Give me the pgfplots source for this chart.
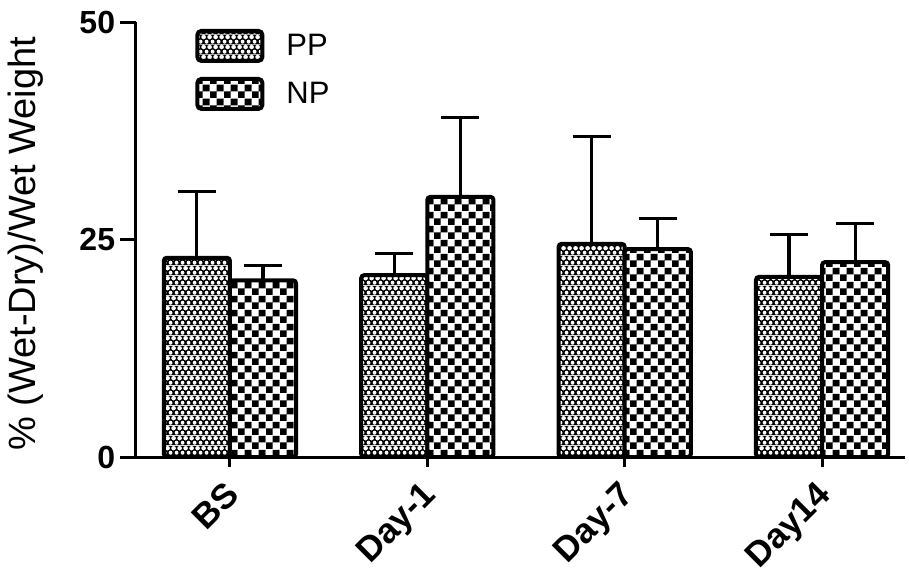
\documentclass[border=0pt]{standalone}
\usepackage{pgfplots}
\pgfplotsset{compat=1.18}
\usepackage{fontspec}
\setmainfont{Liberation Sans}
\usetikzlibrary{patterns}

\pgfdeclarepatterninherentlycolored{ppdots}{\pgfpointorigin}{\pgfqpoint{3pt}{5pt}}{\pgfqpoint{3pt}{5pt}}{%
  \pgfsetfillcolor{black}%
  \pgfpathrectangle{\pgfpointorigin}{\pgfqpoint{3pt}{5pt}}\pgfusepath{fill}%
  \pgfsetfillcolor{white}%
  \pgfpathcircle{\pgfqpoint{1.5pt}{1.25pt}}{1.1pt}%
  \pgfpathcircle{\pgfqpoint{0pt}{3.75pt}}{1.1pt}%
  \pgfpathcircle{\pgfqpoint{3pt}{3.75pt}}{1.1pt}%
  \pgfusepath{fill}%
}
\pgfdeclarepatterninherentlycolored{npcheck}{\pgfpointorigin}{\pgfqpoint{7pt}{7pt}}{\pgfqpoint{7pt}{7pt}}{%
  \pgfsetfillcolor{white}%
  \pgfpathrectangle{\pgfpointorigin}{\pgfqpoint{7pt}{7pt}}\pgfusepath{fill}%
  \pgfsetfillcolor{black}%
  \pgfpathrectangle{\pgfpointorigin}{\pgfqpoint{3.5pt}{3.5pt}}%
  \pgfpathrectangle{\pgfqpoint{3.5pt}{3.5pt}}{\pgfqpoint{3.5pt}{3.5pt}}%
  \pgfusepath{fill}%
}

\begin{document}
\begin{tikzpicture}
\useasboundingbox (-68pt,-58.5pt) rectangle (386.5pt,228.5pt);
\begin{axis}[
  scale only axis,
  width=384.5pt, height=217.5pt,
  xmin=-0.476, xmax=3.42,
  ymin=0, ymax=50,
  axis x line*=bottom, axis y line*=left,
  axis line style={line width=1.5pt},
  tick align=outside,
  xtick={0,1,2,3},
  xticklabels={BS,Day-1,Day-7,Day14},
  ytick={0,25,50},
  xtick style={line width=1.5pt, black, /pgfplots/major tick length=5pt},
  ytick style={line width=1.5pt, black, /pgfplots/major tick length=8pt},
  /pgf/number format/assume math mode=true,
  yticklabel style={font=\bfseries\fontsize{16}{16}\selectfont, inner sep=0pt, xshift=-6pt},
  xticklabel style={font=\bfseries\fontsize{17.5}{17.5}\selectfont, rotate=45, anchor=north east, inner sep=1pt, xshift=-6.2pt, yshift=-1.5pt},
  ylabel={\% (Wet-Dry)/Wet Weight},
  ylabel style={font=\fontsize{19}{19}\selectfont, at={(axis description cs:-0.143,0.49)}, anchor=center},
  legend style={at={(0.0767,0.985)}, anchor=north west, draw=none, fill=none,
    font=\fontsize{15.5}{15.5}\selectfont, inner sep=0pt, row sep=7pt,
    cells={anchor=west}},
  legend cell align=left,
]
\addplot[ybar, bar width=0.335, bar shift=0, draw=black, line width=2pt, rounded corners=1.5pt, pattern=ppdots,
  legend image code/.code={\draw[draw=black, line width=2pt, rounded corners=2pt, pattern=ppdots] (0pt,-7.5pt) rectangle (32.5pt,7.5pt);},
  error bars/.cd, y dir=plus, y explicit,
  error bar style={line width=1.6pt, black, sharp corners},
  error mark options={rotate=90, mark size=9.5pt, line width=1.6pt, black}]
  coordinates {(-0.1675,22.9) +- (0,7.6) (0.8325,20.9) +- (0,2.5) (1.8325,24.5) +- (0,12.3) (2.8325,20.7) +- (0,4.9)};
\addlegendentry{\hspace{9pt}PP}
\addplot[ybar, bar width=0.335, bar shift=0, draw=black, line width=2pt, rounded corners=1.5pt, pattern=npcheck,
  legend image code/.code={\draw[draw=black, line width=2pt, rounded corners=2pt, pattern=npcheck] (0pt,-7.5pt) rectangle (32.5pt,7.5pt);},
  error bars/.cd, y dir=plus, y explicit,
  error bar style={line width=1.6pt, black, sharp corners},
  error mark options={rotate=90, mark size=9.5pt, line width=1.6pt, black}]
  coordinates {(0.1675,20.3) +- (0,1.7) (1.1675,29.9) +- (0,9.1) (2.1675,23.9) +- (0,3.5) (3.1675,22.4) +- (0,4.4)};
\addlegendentry{\hspace{9pt}NP}
\end{axis}
\end{tikzpicture}
\end{document}
